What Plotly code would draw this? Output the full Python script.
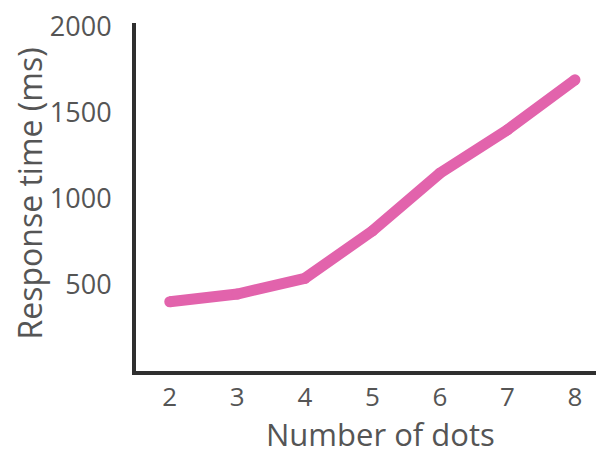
import plotly.graph_objects as go

# values
dots = [2, 3, 4, 5, 6, 7, 8]
response_ms = [402, 447, 538, 813, 1148, 1400, 1690]
y_ticks = [500, 1000, 1500, 2000]
x_title = "Number of dots"
y_title = "Response time (ms)"

pink = "#e263ac"
axis_col = "#2f2f2f"
text_col = "#555555"
font_name = "Open Sans"

fig = go.Figure()

fig.add_trace(
    go.Scatter(
        x=dots,
        y=response_ms,
        mode="lines+markers",
        line=dict(color=pink, width=11),
        marker=dict(color=pink, size=11),
        showlegend=False,
    )
)

fig.update_xaxes(
    range=[1.5, 8.4],
    tickvals=dots,
    showgrid=False,
    zeroline=False,
    showline=True,
    linecolor=axis_col,
    linewidth=4,
    ticks="",
    automargin=False,
    ticklabelstandoff=0,
    tickfont=dict(family=font_name, size=26, color=text_col),
)

fig.update_yaxes(
    range=[0, 2020],
    tickvals=y_ticks,
    showgrid=False,
    zeroline=False,
    showline=True,
    linecolor=axis_col,
    linewidth=4,
    ticks="",
    automargin=False,
    ticklabelstandoff=15,
    ticklabeloverflow="allow",
    tickfont=dict(family=font_name, size=27, color=text_col),
)

# axis titles as annotations (title standoff is ignored without automargin)
fig.add_annotation(
    text=x_title, xref="paper", yref="paper", x=0.524, y=0,
    yshift=-63, xanchor="center", yanchor="middle", showarrow=False,
    borderpad=0,
    font=dict(family=font_name, size=31, color=text_col),
)
fig.add_annotation(
    text=y_title, xref="paper", yref="paper", x=0, y=0.51,
    xshift=-106, xanchor="center", yanchor="middle", showarrow=False,
    textangle=-90, borderpad=0,
    font=dict(family=font_name, size=32, color=text_col),
)

# the page body adds an 8px margin, so the figure is drawn a little smaller
fig.update_layout(
    width=596,
    height=444,
    margin=dict(l=128, r=2, t=15, b=81),
    plot_bgcolor="white",
    paper_bgcolor="white",
)

fig.write_html("out.html")
